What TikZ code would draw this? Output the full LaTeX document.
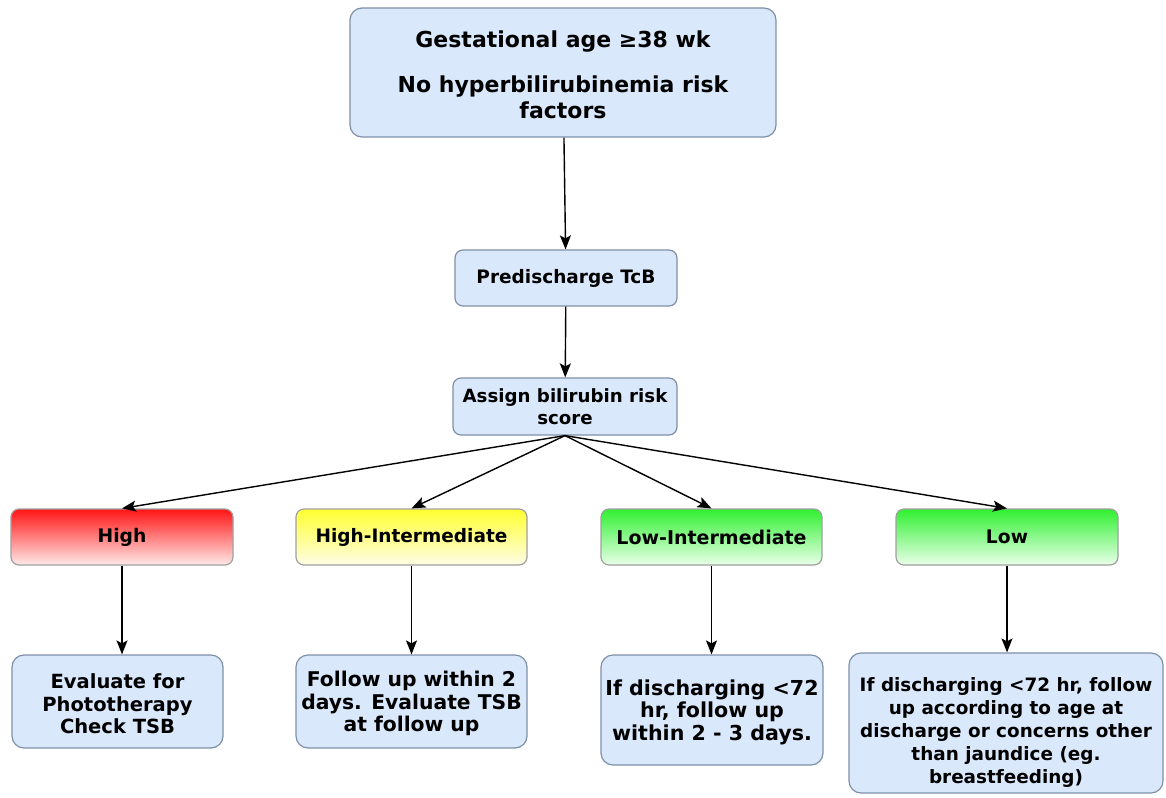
\documentclass[tikz,border=0pt]{standalone}
\usepackage{fontspec}
\setmainfont{DejaVu Sans}
\usetikzlibrary{arrows.meta}
\definecolor{boxblue}{HTML}{DAE8FC}
\definecolor{boxline}{HTML}{7F8FA6}
\definecolor{riskline}{HTML}{A0A0A0}
\definecolor{redtop}{HTML}{FF1414}
\definecolor{redbot}{HTML}{FFEAEA}
\definecolor{yeltop}{HTML}{FFFF30}
\definecolor{yelbot}{HTML}{FFFDE6}
\definecolor{grntop}{HTML}{30F030}
\definecolor{grnbot}{HTML}{EAFFEA}
\newcommand{\fs}[2]{\bfseries\fontsize{#1}{#2}\selectfont}
\begin{document}
\begin{tikzpicture}[x=1pt,y=-1pt,
  box/.style={draw=boxline, line width=1.2pt, rounded corners=12pt, fill=boxblue,
    align=center, inner sep=0pt, font=\fs{19.5}{22.5}},
  risk/.style={box, draw=riskline, rounded corners=8pt, minimum width=222pt,
    minimum height=56pt, font=\fs{18.7}{22}},
  arr/.style={-{Stealth[length=14pt,width=11pt,inset=3pt]}, line width=1.4pt}]
\useasboundingbox (0,0) rectangle (1166,797);

% start and screening steps
\node[box, minimum width=426pt, minimum height=129pt, font=\fs{22}{26}] (top) at (563,72.5)
  {\rule{0pt}{22pt}Gestational age ≥38 wk\\[19pt]No hyperbilirubinemia risk\\factors};
\node[box, rounded corners=8pt, minimum width=222pt, minimum height=56pt, font=\fs{18.5}{22}] (tcb) at (566,278)
  {Predischarge TcB};
\node[box, rounded corners=8pt, minimum width=224pt, minimum height=57pt, font=\fs{18.2}{22}] (score) at (565,406.5)
  {Assign bilirubin risk\\score};

% risk zones
\node[risk, top color=redtop, bottom color=redbot] (high) at (122,537) {High};
\node[risk, minimum width=231pt, top color=yeltop, bottom color=yelbot, font=\fs{18.5}{22}] (hint) at (411.5,537) {High-Intermediate};
\node[risk, minimum width=221pt, top color=grntop, bottom color=grnbot, font=\fs{19}{22}] (lint) at (711.5,537) {Low-Intermediate};
\node[risk, top color=grntop, bottom color=grnbot] (low) at (1007,537) {Low};

% follow-up actions
\node[box, minimum width=211pt, minimum height=93pt] (b1) at (117.5,701.5)
  {\rule{0pt}{20pt}Evaluate for\\Phototherapy\\Check TSB};
\node[box, minimum width=231pt, minimum height=93pt, font=\fs{20.3}{22.5}] (b2) at (411.5,701.5)
  {\rule{0pt}{20pt}Follow up within 2\\days. Evaluate TSB\\at follow up};
\node[box, minimum width=222pt, minimum height=110pt, font=\fs{20.6}{22.5}] (b3) at (712,710)
  {\rule{0pt}{20pt}If discharging <72\\hr, follow up\\within 2 - 3 days.};
\node[box, minimum width=314pt, minimum height=140pt, font=\fs{18.4}{23}] (b4) at (1006,723)
  {\rule{0pt}{32pt}If discharging <72 hr, follow\\up according to age at\\discharge or concerns other\\than jaundice (eg.\\breastfeeding)};

% connectors
\draw[arr] (top) -- (tcb);
\draw[arr] (tcb) -- (score);
\draw[arr] (score.south) -- (high.north);
\draw[arr] (score.south) -- (hint.north);
\draw[arr] (score.south) -- (lint.north);
\draw[arr] (score.south) -- (low.north);
\draw[arr] (high.south) -- (high.south |- b1.north);
\draw[arr] (hint.south) -- (hint.south |- b2.north);
\draw[arr] (lint.south) -- (lint.south |- b3.north);
\draw[arr] (low.south) -- (low.south |- b4.north);
\end{tikzpicture}
\end{document}
